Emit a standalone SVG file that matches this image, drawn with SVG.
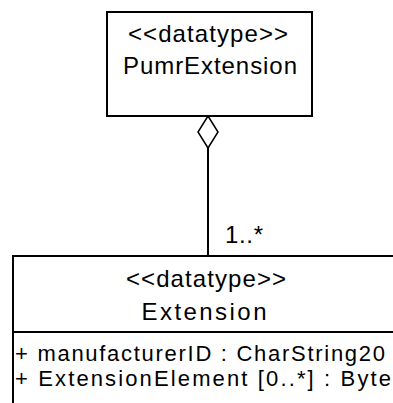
<svg xmlns="http://www.w3.org/2000/svg" width="393" height="403" viewBox="0 0 393 403">
<style>
.box{fill:#fff;stroke:#000;stroke-width:2}
.t{font-family:"Liberation Sans",Arial,sans-serif;font-size:24px;fill:#000}
.a{font-size:22px}
.c{text-anchor:middle}
.ln{stroke:#000;stroke-width:2;fill:none}
</style>
<rect width="393" height="403" fill="#fff"/>
<g id="connectors">
<line class="ln" x1="208" y1="148" x2="208" y2="256"/>
<polygon points="208,116 218,132 208,148 198,132" fill="#fff" stroke="#000" stroke-width="1.5"/>
<text class="t" x="225" y="243" textLength="38" lengthAdjust="spacing">1..*</text>
</g>
<g id="PumrExtension">
<rect class="box" x="107" y="12" width="205" height="104"/>
<text class="t c" x="208" y="42" textLength="160" lengthAdjust="spacing">&lt;&lt;datatype&gt;&gt;</text>
<text class="t c" x="210" y="74" textLength="174" lengthAdjust="spacing">PumrExtension</text>
</g>
<g id="Extension">
<rect class="box" x="13" y="256" width="400" height="160"/>
<line class="ln" x1="13" y1="332" x2="393" y2="332"/>
<text class="t c" x="206" y="287" textLength="160" lengthAdjust="spacing">&lt;&lt;datatype&gt;&gt;</text>
<text class="t c" x="204" y="320" textLength="125" lengthAdjust="spacing">Extension</text>
<text class="t a" x="15" y="361" textLength="370" lengthAdjust="spacing">+ manufacturerID : CharString20</text>
<text class="t a" x="15" y="386" textLength="376" lengthAdjust="spacing">+ ExtensionElement [0..*] : Byte</text>
</g>
</svg>
